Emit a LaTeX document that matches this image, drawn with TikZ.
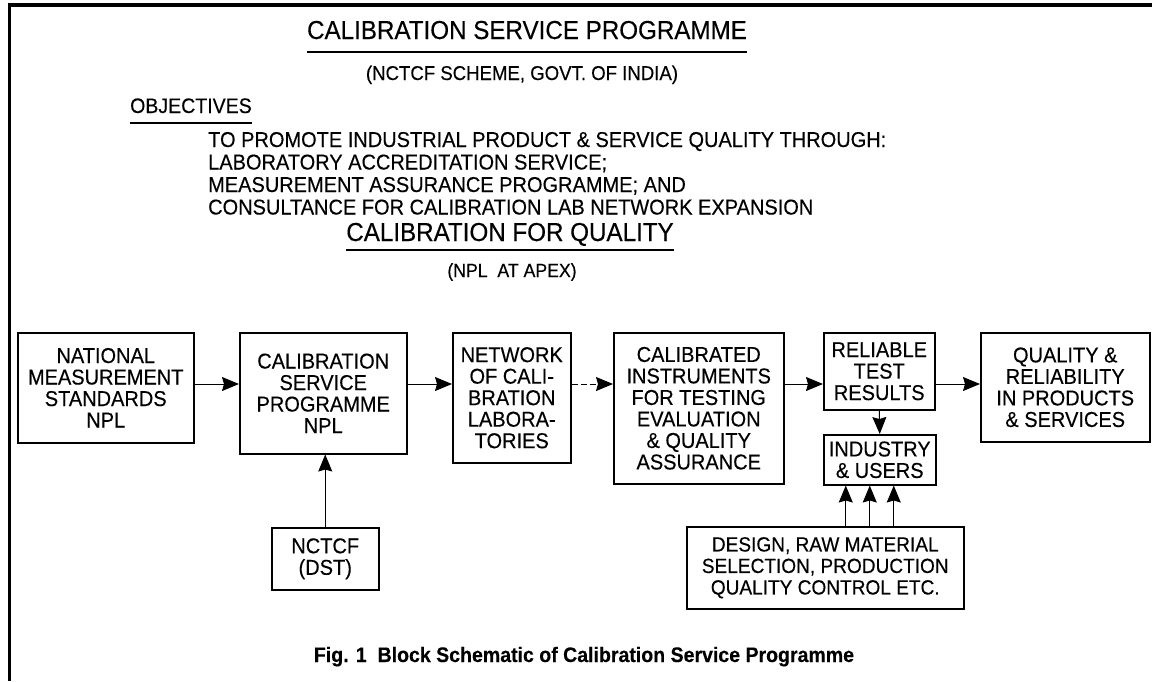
\documentclass[tikz,border=0pt]{standalone}
\usepackage{fontspec}
\setmainfont{Liberation Sans}[FakeStretch=0.93,FakeBold=0.3]
\usetikzlibrary{arrows.meta}
\tikzstyle{block} = [rectangle, draw=black, line width=1.5pt, anchor=north west, align=center, inner sep=2pt, font=\fontsize{21.5}{21.5}\selectfont]
\tikzstyle{arrow} = [line width=1pt, -{Stealth[length=17pt,width=14pt,inset=2pt]}]
\tikzstyle{heading} = [inner sep=0pt, anchor=base]
\tikzstyle{uline} = [line width=2.2pt]

\begin{document}
\begin{tikzpicture}[x=1pt,y=-1pt]
\useasboundingbox (0,0) rectangle (1152,681);
\draw[line width=3.5pt] (9.5,681) -- (9.5,5) -- (1152,5);

\node[heading, font=\fontsize{26}{28}\selectfont] (title) at (527,39) {CALIBRATION SERVICE PROGRAMME};
\draw[uline] ([yshift=-13pt]title.base west) -- ([yshift=-13pt]title.base east);
\node[heading, font=\fontsize{20}{22}\selectfont] (scheme) at (522,80) {(NCTCF SCHEME, GOVT. OF INDIA)};
\node[heading, anchor=base west, font=\fontsize{21}{23}\selectfont] (objhead) at (130,113) {OBJECTIVES};
\draw[uline] ([yshift=-10pt]objhead.base west) -- ([yshift=-10pt]objhead.base east);
\foreach \txt [count=\i] in {TO PROMOTE INDUSTRIAL PRODUCT \& SERVICE QUALITY THROUGH:,
    LABORATORY ACCREDITATION SERVICE;, MEASUREMENT ASSURANCE PROGRAMME; AND,
    CONSULTANCE FOR CALIBRATION LAB NETWORK EXPANSION}
  \node[heading, anchor=base west, font=\fontsize{21.5}{23}\selectfont] (obj\i) at (208,{124.5+22.5*\i}) {\txt};
\node[heading, font=\fontsize{26}{28}\selectfont] (cfq) at (510,241) {CALIBRATION FOR QUALITY};
\draw[uline] ([yshift=-9pt]cfq.base west) -- ([yshift=-9pt]cfq.base east);
\node[heading, font=\fontsize{19}{21}\selectfont] (apex) at (512,277) {(NPL\ \ AT APEX)};

\coordinate (row) at (0,384);
\node[block, minimum width=176, minimum height=110] (nms) at (17,332) {NATIONAL\\MEASUREMENT\\STANDARDS\\NPL};
\node[block, minimum width=167, minimum height=121] (csp) at (239,332) {CALIBRATION\\SERVICE\\PROGRAMME\\NPL};
\node[block, minimum width=118, minimum height=130] (net) at (452,332) {NETWORK\\OF CALI-\\BRATION\\LABORA-\\TORIES};
\node[block, minimum width=170, minimum height=151] (cal) at (613,332) {CALIBRATED\\INSTRUMENTS\\FOR TESTING\\EVALUATION\\\& QUALITY\\ASSURANCE};
\node[block, minimum width=111, minimum height=77] (rel) at (823,332) {RELIABLE\\TEST\\RESULTS};
\node[block, minimum width=112, minimum height=50] (ind) at (823,434) {INDUSTRY\\\& USERS};
\node[block, minimum width=169, minimum height=109] (qual) at (980,332) {QUALITY \&\\RELIABILITY\\IN PRODUCTS\\\& SERVICES};
\node[block, minimum width=107, minimum height=62] (nctcf) at (271,527) {NCTCF\\(DST)};
\node[block, minimum width=277, minimum height=82, font=\fontsize{20.5}{21.5}\selectfont] (design) at (686,526) {DESIGN, RAW MATERIAL\\SELECTION, PRODUCTION\\QUALITY CONTROL ETC.};

\draw[arrow] (nms.east |- row) -- (csp.west |- row);
\draw[arrow] (csp.east |- row) -- (net.west |- row);
\draw[arrow, dash pattern=on 6pt off 3pt] (net.east |- row) -- (cal.west |- row);
\draw[arrow] (cal.east |- row) -- (rel.west |- row);
\draw[arrow] (rel.east |- row) -- (qual.west |- row);
\draw[arrow] (rel.south) -- (ind.north);
\draw[arrow] (nctcf.north) -- (nctcf.north |- csp.south);
\foreach \dx in {-34,-10,14}
  \draw[arrow] ([xshift=\dx]ind.south |- design.north) -- ([xshift=\dx]ind.south);

\node[heading, font=\bfseries\fontsize{21}{23}\selectfont] (caption) at (584,662) {Fig. 1\ \ Block Schematic of Calibration Service Programme};
\end{tikzpicture}
\end{document}
